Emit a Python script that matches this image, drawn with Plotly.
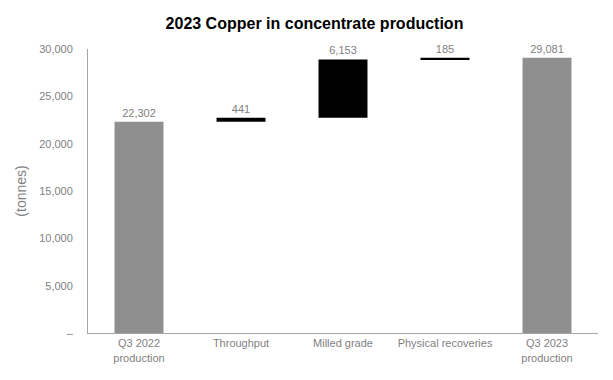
import plotly.graph_objects as go

categories = ["Q3 2022<br>production", "Throughput", "Milled grade", "Physical recoveries", "Q3 2023<br>production"]
values = [22302, 441, 6153, 185, 29081]
measures = ["absolute", "relative", "relative", "relative", "total"]
tick_vals = [0, 5000, 10000, 15000, 20000, 25000, 30000]
tick_text = ["–", "5,000", "10,000", "15,000", "20,000", "25,000", "30,000"]

labels = [f"{v:,}" for v in values]

fig = go.Figure(go.Waterfall(
    x=categories,
    y=values,
    measure=measures,
    text=labels,
    textposition="outside",
    textfont=dict(color="#7f7f7f", size=11, family="Liberation Sans, Arial"),
    increasing=dict(marker=dict(color="#000000")),
    decreasing=dict(marker=dict(color="#000000")),
    totals=dict(marker=dict(color="#8f8f8f")),
    connector=dict(visible=False),
    cliponaxis=False,
))

fig.update_layout(
    width=613, height=380,
    margin=dict(l=80, r=23, t=41, b=55),
    paper_bgcolor="white", plot_bgcolor="white",
    showlegend=False,
    waterfallgap=0.52,
    font=dict(family="Liberation Sans, Arial", color="#7f7f7f", size=11),
    title=dict(text="<b>2023 Copper in concentrate production</b>", x=0.5, xanchor="center",
               y=0.9605, yanchor="middle",
               font=dict(size=16, color="#000000", family="Liberation Sans, Arial")),
)
fig.update_yaxes(
    range=[0, 30000], tickvals=tick_vals, ticktext=tick_text,
    showgrid=False, zeroline=False, showline=True, linecolor="#a6a6a6", linewidth=1,
    ticks="", ticklabelstandoff=12,
    tickfont=dict(color="#7f7f7f", size=11),
    title=dict(text="(tonnes)", font=dict(color="#7f7f7f", size=14), standoff=9),
)
fig.update_xaxes(
    showgrid=False, showline=True, linecolor="#a6a6a6", linewidth=1,
    ticks="", tickfont=dict(color="#7f7f7f", size=11),
)

fig.write_html("out.html")
